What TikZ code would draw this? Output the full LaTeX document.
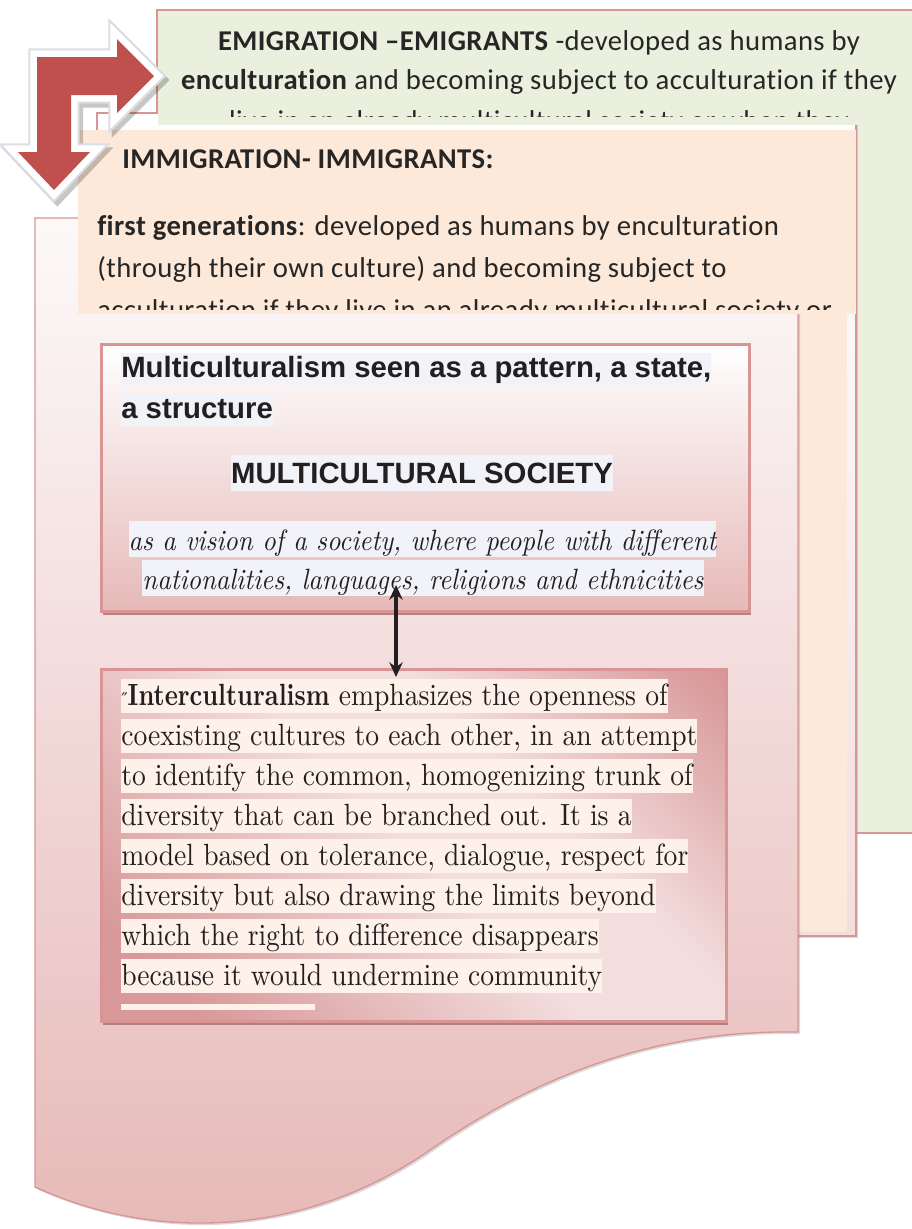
\documentclass[tikz,border=0pt]{standalone}
\usepackage{fontspec}
\usetikzlibrary{shadows,arrows.meta}

\newfontfamily\calfont{Carlito}[Ligatures=NoCommon, LetterSpace=1.5]
\newfontfamily\headfont{Liberation Sans}
\newfontfamily\markfont{DejaVu Serif}
\newfontfamily\bodfont{lmroman10-regular.otf}[
  BoldFont=lmroman10-bold.otf,
  ItalicFont=lmroman10-italic.otf,
  UprightFeatures={FakeStretch=0.9},
  ItalicFeatures={FakeStretch=0.9},
  BoldFeatures={FakeStretch=0.81}]

\definecolor{sheetrim}{HTML}{D99594}
\definecolor{emigreen}{HTML}{EAF0DD}
\definecolor{immipeach}{HTML}{FDE9D9}
\definecolor{rosetop}{HTML}{FDF9F9}
\definecolor{rosebottom}{HTML}{E6B9B8}
\definecolor{rosedark}{HTML}{D9999A}
\definecolor{roselight}{HTML}{F3DEDE}
\definecolor{roseshade}{HTML}{A86C6C}
\definecolor{hlgrey}{HTML}{F2F3F8}
\definecolor{hlcream}{HTML}{FEF1E9}
\definecolor{arrowred}{HTML}{C0504D}
\definecolor{arrowrim}{HTML}{DCDDE3}
\definecolor{sheetink}{HTML}{262626}
\definecolor{inktext}{HTML}{231F20}

\pgfdeclarehorizontalshading{interfade}{100bp}{%
  color(0bp)=(rosedark); color(22bp)=(rosedark); color(50bp)=(roselight);
  color(62bp)=(roselight); color(84bp)=(rosedark); color(100bp)=(rosedark)}

\tikzset{
  sheet/.style={draw=sheetrim, line width=1pt},
  sheetshadow/.style={drop shadow={shadow xshift=1.5pt, shadow yshift=-1.5pt, opacity=0.3}},
  boxframe/.style={draw=sheetrim, line width=2pt, inner sep=0pt, anchor=north west,
    drop shadow={shadow xshift=1.5pt, shadow yshift=-2.5pt, fill=roseshade, opacity=0.8}},
  sheetline/.style={anchor=base west, inner sep=0pt, text=sheetink,
    font=\calfont\fontsize{21.5}{25}\selectfont},
  headline/.style={anchor=base west, inner sep=0pt, fill=hlgrey, text=inktext,
    font=\headfont\bfseries\fontsize{22}{26}\selectfont, text height=18pt, text depth=6pt},
  visionline/.style={anchor=base, inner sep=0pt, fill=hlgrey, text=inktext,
    font=\bodfont\itshape\fontsize{22}{26}\selectfont, text height=21.5pt, text depth=5.5pt},
  interline/.style={anchor=base west, inner sep=0pt, fill=hlcream, text=inktext,
    font=\bodfont\fontsize{23}{26}\selectfont, text height=19.5pt, text depth=6pt},
  bentarrow/.style={fill=arrowred, line join=miter,
    preaction={draw=arrowrim, line width=13pt},
    preaction={draw=white, line width=10pt}},
  link/.style={{Stealth[length=11pt, width=10pt]}-{Stealth[length=11pt, width=10pt]},
    line width=3pt, draw=inktext}
}

\begin{document}
\begin{tikzpicture}[x=0.75pt, y=-0.75pt]
\useasboundingbox (0,0) rectangle (912,1229);
\clip (0,0) rectangle (912,1229);

% emigration sheet, at the back
\draw[sheet, fill=emigreen] (157,10) rectangle (940,833);

% immigration sheet
\draw[sheet, sheetshadow, top color=white, bottom color=roselight] (97,113) rectangle (856,936);

% emigration text box
\fill[emigreen] (158,11) rectangle (912,125);
\node[sheetline, anchor=base] (emi1) at (539,50) {\textbf{EMIGRATION –EMIGRANTS} -developed as humans by};
\node[sheetline, anchor=base] (emi2) at (539,89) {\textbf{enculturation} and becoming subject to acculturation if they};
\begin{scope}
  \clip (158,100) rectangle (912,116);
  \node[sheetline, anchor=base] (emi3) at (539,130) {live in an already multicultural society or when they};
\end{scope}

% body of the immigration sheet
\fill[immipeach] (100,130) rectangle (847,932);

% front sheet with the wavy foot
\draw[sheet, sheetshadow, top color=rosetop, bottom color=rosebottom]
  (35,218) -- (798,218) -- (798,1032)
  .. controls (680,1030) and (560,1060) .. (430,1150)
  .. controls (300,1240) and (150,1240) .. (35,1187) -- cycle;

% immigration text box
\fill[immipeach] (78,130) rectangle (856,314);
\node[sheetline] (immihead) at (122,168) {\textbf{IMMIGRATION- IMMIGRANTS:}};
\node[sheetline] (immi1) at (97,235) {\textbf{first generations}: developed as humans by enculturation};
\node[sheetline] (immi2) at (97,277) {(through their own culture) and becoming subject to};
\begin{scope}
  \clip (78,290) rectangle (856,309);
  \node[sheetline] (immi3) at (97,319) {acculturation if they live in an already multicultural society or};
\end{scope}

% bent arrow
\draw[line width=13pt, line join=miter, black, opacity=0.22, xshift=2.5pt, yshift=-3pt]
  (36,57) -- (117,57) -- (117,39) -- (154,76) -- (117,113) -- (117,95) -- (71,95)
  -- (71,152) -- (90,152) -- (54,190) -- (18,152) -- (37,152) -- cycle;
\path[bentarrow]
  (37,57) -- (117,57) -- (117,39) -- (154,76) -- (117,113) -- (117,95) -- (71,95)
  -- (71,152) -- (90,152) -- (54,190) -- (18,152) -- (37,152) -- cycle;

% multiculturalism box
\node[boxframe, top color=white, bottom color=rosebottom,
  minimum width=486pt, minimum height=200.25pt] (patternbox) at (100,343) {};
\node[headline] (pattern1) at (121,377) {Multiculturalism seen as a pattern, a state,};
\node[headline] (pattern2) at (121,418) {a structure};
\node[headline, anchor=base, font=\headfont\bfseries\fontsize{22}{26}\selectfont,
  text height=21pt] (society) at (422,483) {MULTICULTURAL SOCIETY};
\node[visionline] (vision1) at (422.5,550) {as a vision of a society, where people with different};
\node[visionline] (vision2) at (423,589) {nationalities, languages, religions and ethnicities};

% interculturalism box
\node[boxframe, shading=interfade, shading angle=45,
  minimum width=468.75pt, minimum height=264pt] (interbox) at (100,668) {};
\foreach \txt [count=\i] in {
  {{\markfont\fontsize{13}{13}\selectfont ″}\textbf{Interculturalism} emphasizes the openness of},
  {coexisting cultures to each other, in an attempt},
  {to identify the common, homogenizing trunk of},
  {diversity that can be branched out. It is a},
  {model based on tolerance, dialogue, respect for},
  {diversity but also drawing the limits beyond},
  {which the right to difference disappears},
  {because it would undermine community}}
  \node[interline] (intertext\i) at (121,{665+40*\i}) {\txt};
\fill[hlcream] (121,1004) rectangle (315,1010);

% link between the two boxes
\coordinate (patternlink) at (396,585);
\draw[link, shorten >=-6.75pt] (patternlink) -- (patternlink |- interbox.north);
\end{tikzpicture}
\end{document}
